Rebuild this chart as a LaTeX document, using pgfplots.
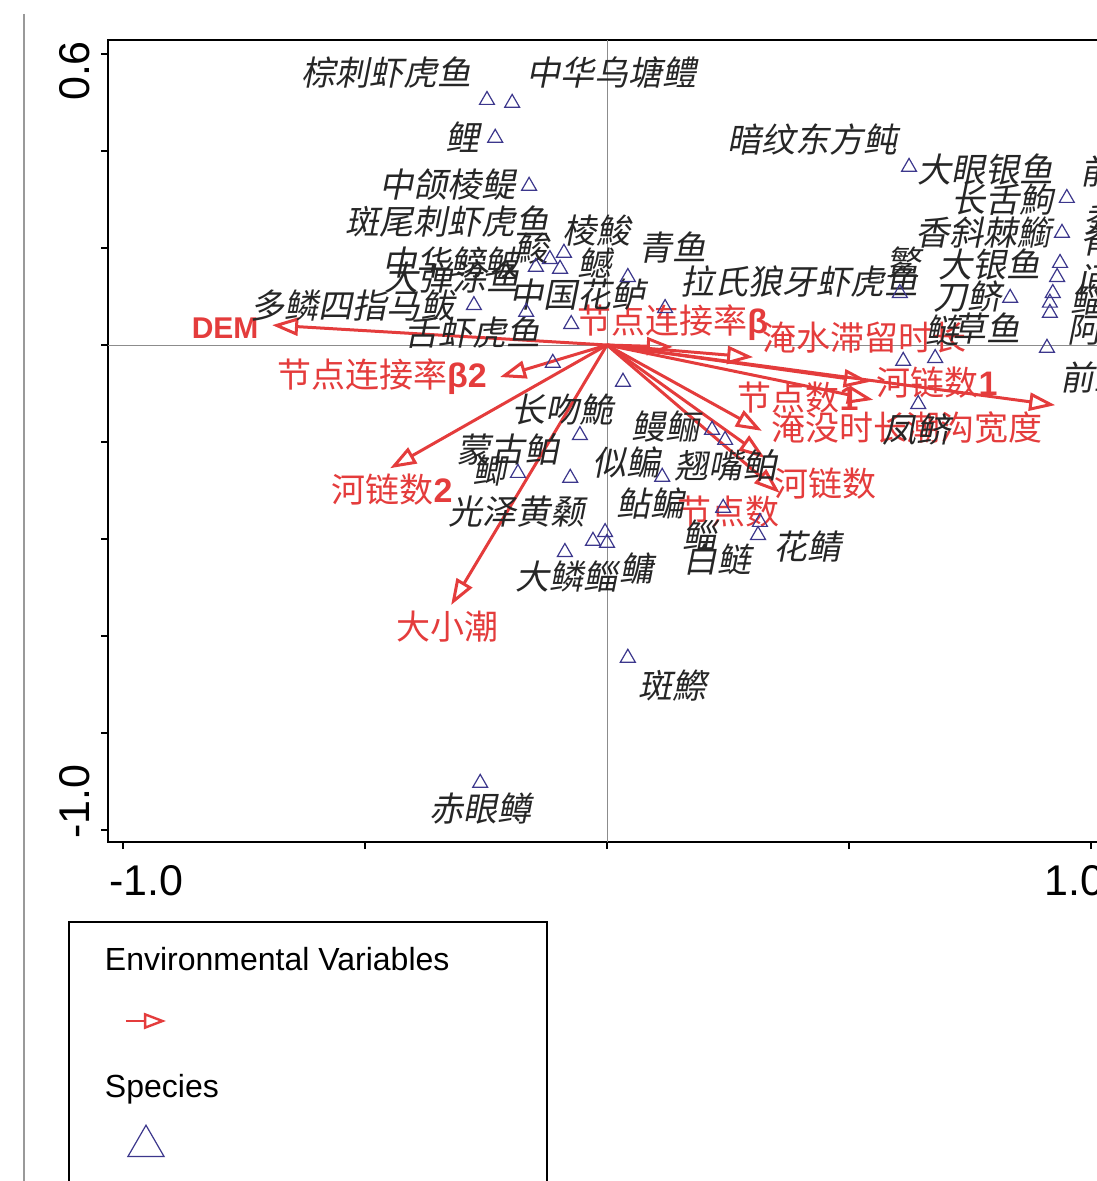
\documentclass[border=0pt]{standalone}
\usepackage{fontspec}
\setmainfont{Liberation Sans}
\newfontfamily\cjk{Noto Sans CJK SC}
\newfontfamily\cjkit[FakeSlant=0.2]{Noto Sans CJK SC}
\usepackage{pgfplots}
\pgfplotsset{compat=1.18}
\usetikzlibrary{arrows.meta}
\definecolor{envred}{RGB}{228,60,60}
\definecolor{spblue}{RGB}{60,55,140}
\definecolor{zerogray}{RGB}{140,140,140}
\newcommand\blab{\cjkit\fontsize{17}{17}\selectfont}
\newcommand\rlab{\cjk\fontsize{17}{17}\selectfont}
\newcommand\rb[1]{{\rmfamily\bfseries #1}}
\begin{document}
\begin{tikzpicture}
\useasboundingbox (0,0) rectangle (548pt,-590.5pt);
\draw[color=gray!80, line width=1pt] (12pt,-7pt) -- (12pt,-590.5pt);
\begin{axis}[
  at={(54pt,-421pt)}, anchor=south west,
  x=242pt, y=242.5pt,
  xmin=-1.031, xmax=1.15, ymin=-1.0247, ymax=0.6289,
  axis line style={line width=1pt},
  xtick={-1,-0.5,0,0.5,1},
  ytick={-1,-0.8,-0.6,-0.4,-0.2,0,0.2,0.4,0.6},
  xticklabels={}, yticklabels={},
  tick style={black, line width=1pt},
  tick align=outside, major tick length=3.5pt,
  xtick pos=bottom, ytick pos=left,
  clip=false,
  envarrow/.style={color=envred, line width=1.5pt, no markers, forget plot,
     -{Triangle[open, length=13pt, width=9pt]}},
  legend cell align=left,
  legend style={at={(-0.0379,-0.0985)}, anchor=north west, draw=black,
     line width=1pt, fill=white, inner sep=0pt, row sep=0pt,
     nodes={inner sep=0pt, text depth={}},
     font=\rmfamily\fontsize{16}{19}\selectfont},
]
% zero lines
\addplot[zerogray, line width=0.5pt, forget plot] coordinates {(-1.031,0) (1.15,0)};
\addplot[zerogray, line width=0.5pt, forget plot] coordinates {(0,-1.0247) (0,0.6289)};

% species scores
\addplot[only marks, mark=triangle, mark size=4.3pt, mark options={spblue, line width=0.6pt}, forget plot] coordinates {
(-0.248,0.505) (-0.196,0.499) (-0.231,0.427) (-0.161,0.328)
(-0.118,0.177) (-0.089,0.190) (-0.147,0.161) (-0.097,0.157) (0.043,0.140)
(-0.275,0.082) (-0.167,0.068) (-0.074,0.043) (0.120,0.076)
(0.624,0.367) (0.950,0.303) (0.940,0.231) (0.936,0.169) (0.930,0.140)
(0.921,0.107) (0.915,0.087) (0.915,0.066) (0.833,0.097) (0.605,0.107) (0.909,-0.006)
(0.612,-0.033) (0.678,-0.027) (0.643,-0.122)
(-0.112,-0.037) (0.033,-0.076) (-0.056,-0.186) (-0.184,-0.264) (-0.076,-0.274)
(0.114,-0.272) (0.217,-0.175) (0.244,-0.196)
(-0.004,-0.386) (-0.029,-0.404) (0.000,-0.408) (-0.087,-0.427)
(0.240,-0.336) (0.316,-0.365) (0.312,-0.392)
(0.043,-0.645) (-0.262,-0.903)
};

% environmental arrows
\addplot[envarrow] coordinates {(0,0) (-0.692,0.041)};
\addplot[envarrow] coordinates {(0,0) (0.136,-0.004)};
\addplot[envarrow] coordinates {(0,0) (0.302,-0.025)};
\addplot[envarrow] coordinates {(0,0) (0.543,-0.076)};
\addplot[envarrow] coordinates {(0,0) (0.550,-0.113)};
\addplot[envarrow] coordinates {(0,0) (0.926,-0.124)};
\addplot[envarrow] coordinates {(0,0) (0.320,-0.177)};
\addplot[envarrow] coordinates {(0,0) (0.326,-0.233)};
\addplot[envarrow] coordinates {(0,0) (0.357,-0.305)};
\addplot[envarrow] coordinates {(0,0) (-0.221,-0.066)};
\addplot[envarrow] coordinates {(0,0) (-0.448,-0.254)};
\addplot[envarrow] coordinates {(0,0) (-0.322,-0.536)};

% red labels
\begin{scope}[every node/.style={text=envred, font=\rlab, inner sep=0pt}]
\node[font=\rmfamily\bfseries\fontsize{15}{15}\selectfont] at (axis cs:-0.789,0.035) {DEM};
\node at (axis cs:0.136,0.047) {节点连接率\rb{β}};
\node at (axis cs:0.533,0.016) {淹水滞留时长};
\node at (axis cs:0.682,-0.078) {河链数\rb{1}};
\node at (axis cs:0.395,-0.109) {节点数\rb{1}};
\node at (axis cs:0.481,-0.171) {淹没时长};
\node at (axis cs:0.760,-0.171) {潮沟宽度};
\node at (axis cs:0.452,-0.285) {河链数};
\node at (axis cs:0.250,-0.344) {节点数};
\node at (axis cs:-0.465,-0.066) {节点连接率\rb{β2}};
\node at (axis cs:-0.444,-0.299) {河链数\rb{2}};
\node at (axis cs:-0.329,-0.581) {大小潮};
\end{scope}

% species labels
\begin{scope}[every node/.style={text=black!85, font=\blab, inner sep=0pt}]
\node at (axis cs:-0.455,0.561) {棕刺虾虎鱼};
\node at (axis cs:0.010,0.561) {中华乌塘鳢};
\node at (axis cs:-0.298,0.429) {鲤};
\node at (axis cs:-0.329,0.330) {中颌棱鳀};
\node at (axis cs:0.424,0.423) {暗纹东方鲀};
\node at (axis cs:0.781,0.361) {大眼银鱼};
\node at (axis cs:0.818,0.299) {长舌鮈};
\node at (axis cs:0.777,0.233) {香斜棘䲗};
\node at (axis cs:0.612,0.171) {鳘};
\node at (axis cs:0.791,0.165) {大银鱼};
\node at (axis cs:0.744,0.099) {刀鲚};
\node at (axis cs:0.694,0.031) {鲢};
\node at (axis cs:0.785,0.035) {草鱼};
\node at (axis cs:-0.329,0.254) {斑尾刺虾虎鱼};
\node at (axis cs:-0.021,0.237) {棱鮻};
\node at (axis cs:-0.155,0.198) {鮻};
\node at (axis cs:0.136,0.202) {青鱼};
\node at (axis cs:-0.324,0.171) {中华鳑鲏};
\node at (axis cs:-0.320,0.140) {大弹涂鱼};
\node at (axis cs:-0.025,0.169) {鳡};
\node at (axis cs:0.397,0.130) {拉氏狼牙虾虎鱼};
\node at (axis cs:-0.525,0.082) {多鳞四指马鲅};
\node at (axis cs:-0.062,0.103) {中国花鲈};
\node at (axis cs:-0.277,0.025) {舌虾虎鱼};
\node at (axis cs:-0.091,-0.134) {长吻鮠};
\node at (axis cs:-0.205,-0.216) {蒙古鲌};
\node at (axis cs:-0.242,-0.258) {鲫};
\node at (axis cs:-0.186,-0.344) {光泽黄颡};
\node at (axis cs:0.041,-0.243) {似鳊};
\node at (axis cs:0.120,-0.169) {鳗鲡};
\node at (axis cs:0.244,-0.249) {翘嘴鲌};
\node at (axis cs:0.089,-0.326) {鲇鳊};
\node at (axis cs:0.192,-0.392) {鲻};
\node at (axis cs:0.229,-0.443) {白鲢};
\node at (axis cs:0.415,-0.416) {花鲭};
\node at (axis cs:-0.083,-0.478) {大鳞鲻};
\node at (axis cs:0.060,-0.460) {鳙};
\node at (axis cs:0.136,-0.703) {斑鰶};
\node at (axis cs:-0.262,-0.955) {赤眼鳟};
\node at (axis cs:0.640,-0.175) {凤鲚};
\node[anchor=west] at (axis cs:0.977,0.357) {前颌间银鱼};
\node[anchor=west] at (axis cs:0.983,0.258) {秀丽白虾};
\node[anchor=west] at (axis cs:0.977,0.216) {脊尾白虾};
\node[anchor=west] at (axis cs:0.971,0.134) {间下鱵};
\node[anchor=west] at (axis cs:0.957,0.093) {鲻鱼};
\node[anchor=west] at (axis cs:0.950,0.031) {阿部鲻虾虎鱼};
\node[anchor=west] at (axis cs:0.936,-0.066) {前鳞骨鲻};
\end{scope}

% tick labels
\begin{scope}[every node/.style={font=\rmfamily\fontsize{21.5}{22}\selectfont, inner sep=0pt}]
\node at (axis cs:-0.952,-1.105) {-1.0};
\node at (axis cs:0.965,-1.105) {1.0};
\node[rotate=90] at (axis cs:-1.099,0.565) {0.6};
\node[rotate=90] at (axis cs:-1.099,-0.942) {-1.0};
\end{scope}

% legend
\addlegendimage{legend image code/.code={}}
\addlegendentry{\parbox[c][37pt][c]{239pt}{\hspace*{18pt}Environmental Variables}}
\addlegendimage{legend image code/.code={\draw[overlay, envred, line width=1.2pt, -{Triangle[open, length=11pt, width=8pt]}] (28.5pt,0pt) -- (48.5pt,0pt);}}
\addlegendentry{\parbox[c][25pt][c]{239pt}{\mbox{}}}
\addlegendimage{legend image code/.code={}}
\addlegendentry{\parbox[c][43pt][c]{239pt}{\hspace*{18pt}Species}}
\addlegendimage{legend image code/.code={\draw[overlay, spblue, line width=0.6pt, mark=triangle, mark size=10.4pt] plot[only marks] coordinates {(38.5pt,0pt)};}}
\addlegendentry{\parbox[c][14pt][c]{239pt}{\mbox{}}}
\addlegendimage{legend image code/.code={}}
\addlegendentry{\parbox[c][20pt][c]{239pt}{\mbox{}}}
\end{axis}
\end{tikzpicture}
\end{document}
